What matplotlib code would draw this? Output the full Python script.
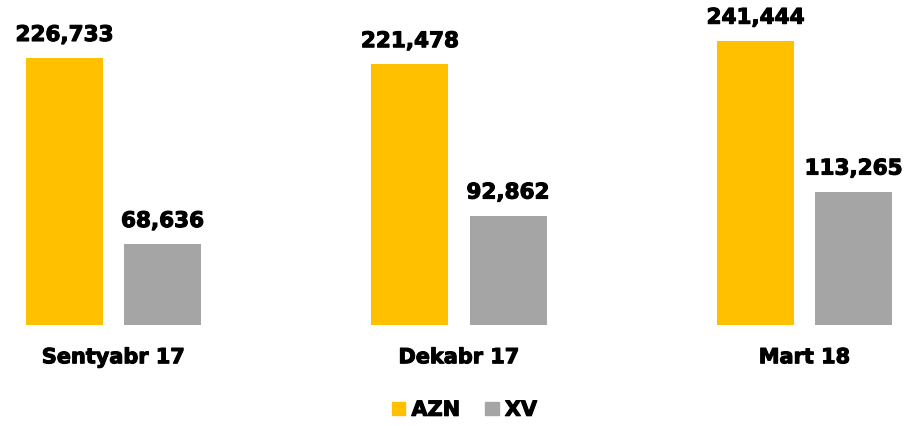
import numpy as np
import matplotlib.pyplot as plt
import matplotlib.patheffects as pe
from matplotlib.patches import Patch

# Data
periods = ['Sentyabr 17', 'Dekabr 17', 'Mart 18']
azn = [226733, 221478, 241444]
xv = [68636, 92862, 113265]
series_names = ['AZN', 'XV']

COLOR = ['#FFC000', '#A5A5A5']

plt.rcParams['font.family'] = 'DejaVu Sans'
plt.rcParams['font.weight'] = 'bold'

# a thin stroke to get closer to the heavy bold face of the original
heavy = [pe.withStroke(linewidth=0.8, foreground='black')]

fig = plt.figure(figsize=(9.07, 4.27), dpi=100)
ax = fig.add_axes([0, 0.2365, 1, 0.7166])

index = np.arange(len(periods))
bar_width = 0.223
offset = 0.142

bars1 = ax.bar(index - offset, azn, bar_width, color=COLOR[0], label=series_names[0])
bars2 = ax.bar(index + offset, xv, bar_width, color=COLOR[1], label=series_names[1])

for bars in (bars1, bars2):
    for b in bars:
        ax.annotate('{:,}'.format(int(b.get_height())),
                    (b.get_x() + b.get_width() / 2, b.get_height()),
                    xytext=(0, 9.5), textcoords='offset points',
                    ha='center', va='bottom', fontsize=15.5, fontweight='bold',
                    path_effects=heavy)

ax.set_xlim(-0.3285, 2.2967)
ax.set_ylim(0, 260000)
ax.set_xticks(index)
ax.set_xticklabels(periods, fontsize=15, fontweight='bold')
for t in ax.get_xticklabels():
    t.set_path_effects(heavy)
ax.tick_params(axis='x', length=0, pad=16)
ax.set_yticks([])
for s in ax.spines.values():
    s.set_visible(False)

handles = [Patch(color=COLOR[0], label=series_names[0]),
           Patch(color=COLOR[1], label=series_names[1])]
leg = fig.legend(handles=handles, loc='center', bbox_to_anchor=(0.512, 0.038),
                 ncol=2, frameon=False, handlelength=0.65,
                 handleheight=0.65, handletextpad=0.3, columnspacing=1.2,
                 prop={'weight': 'bold', 'size': 15})
for t in leg.get_texts():
    t.set_path_effects(heavy)

fig.savefig('out.png', dpi=100)
